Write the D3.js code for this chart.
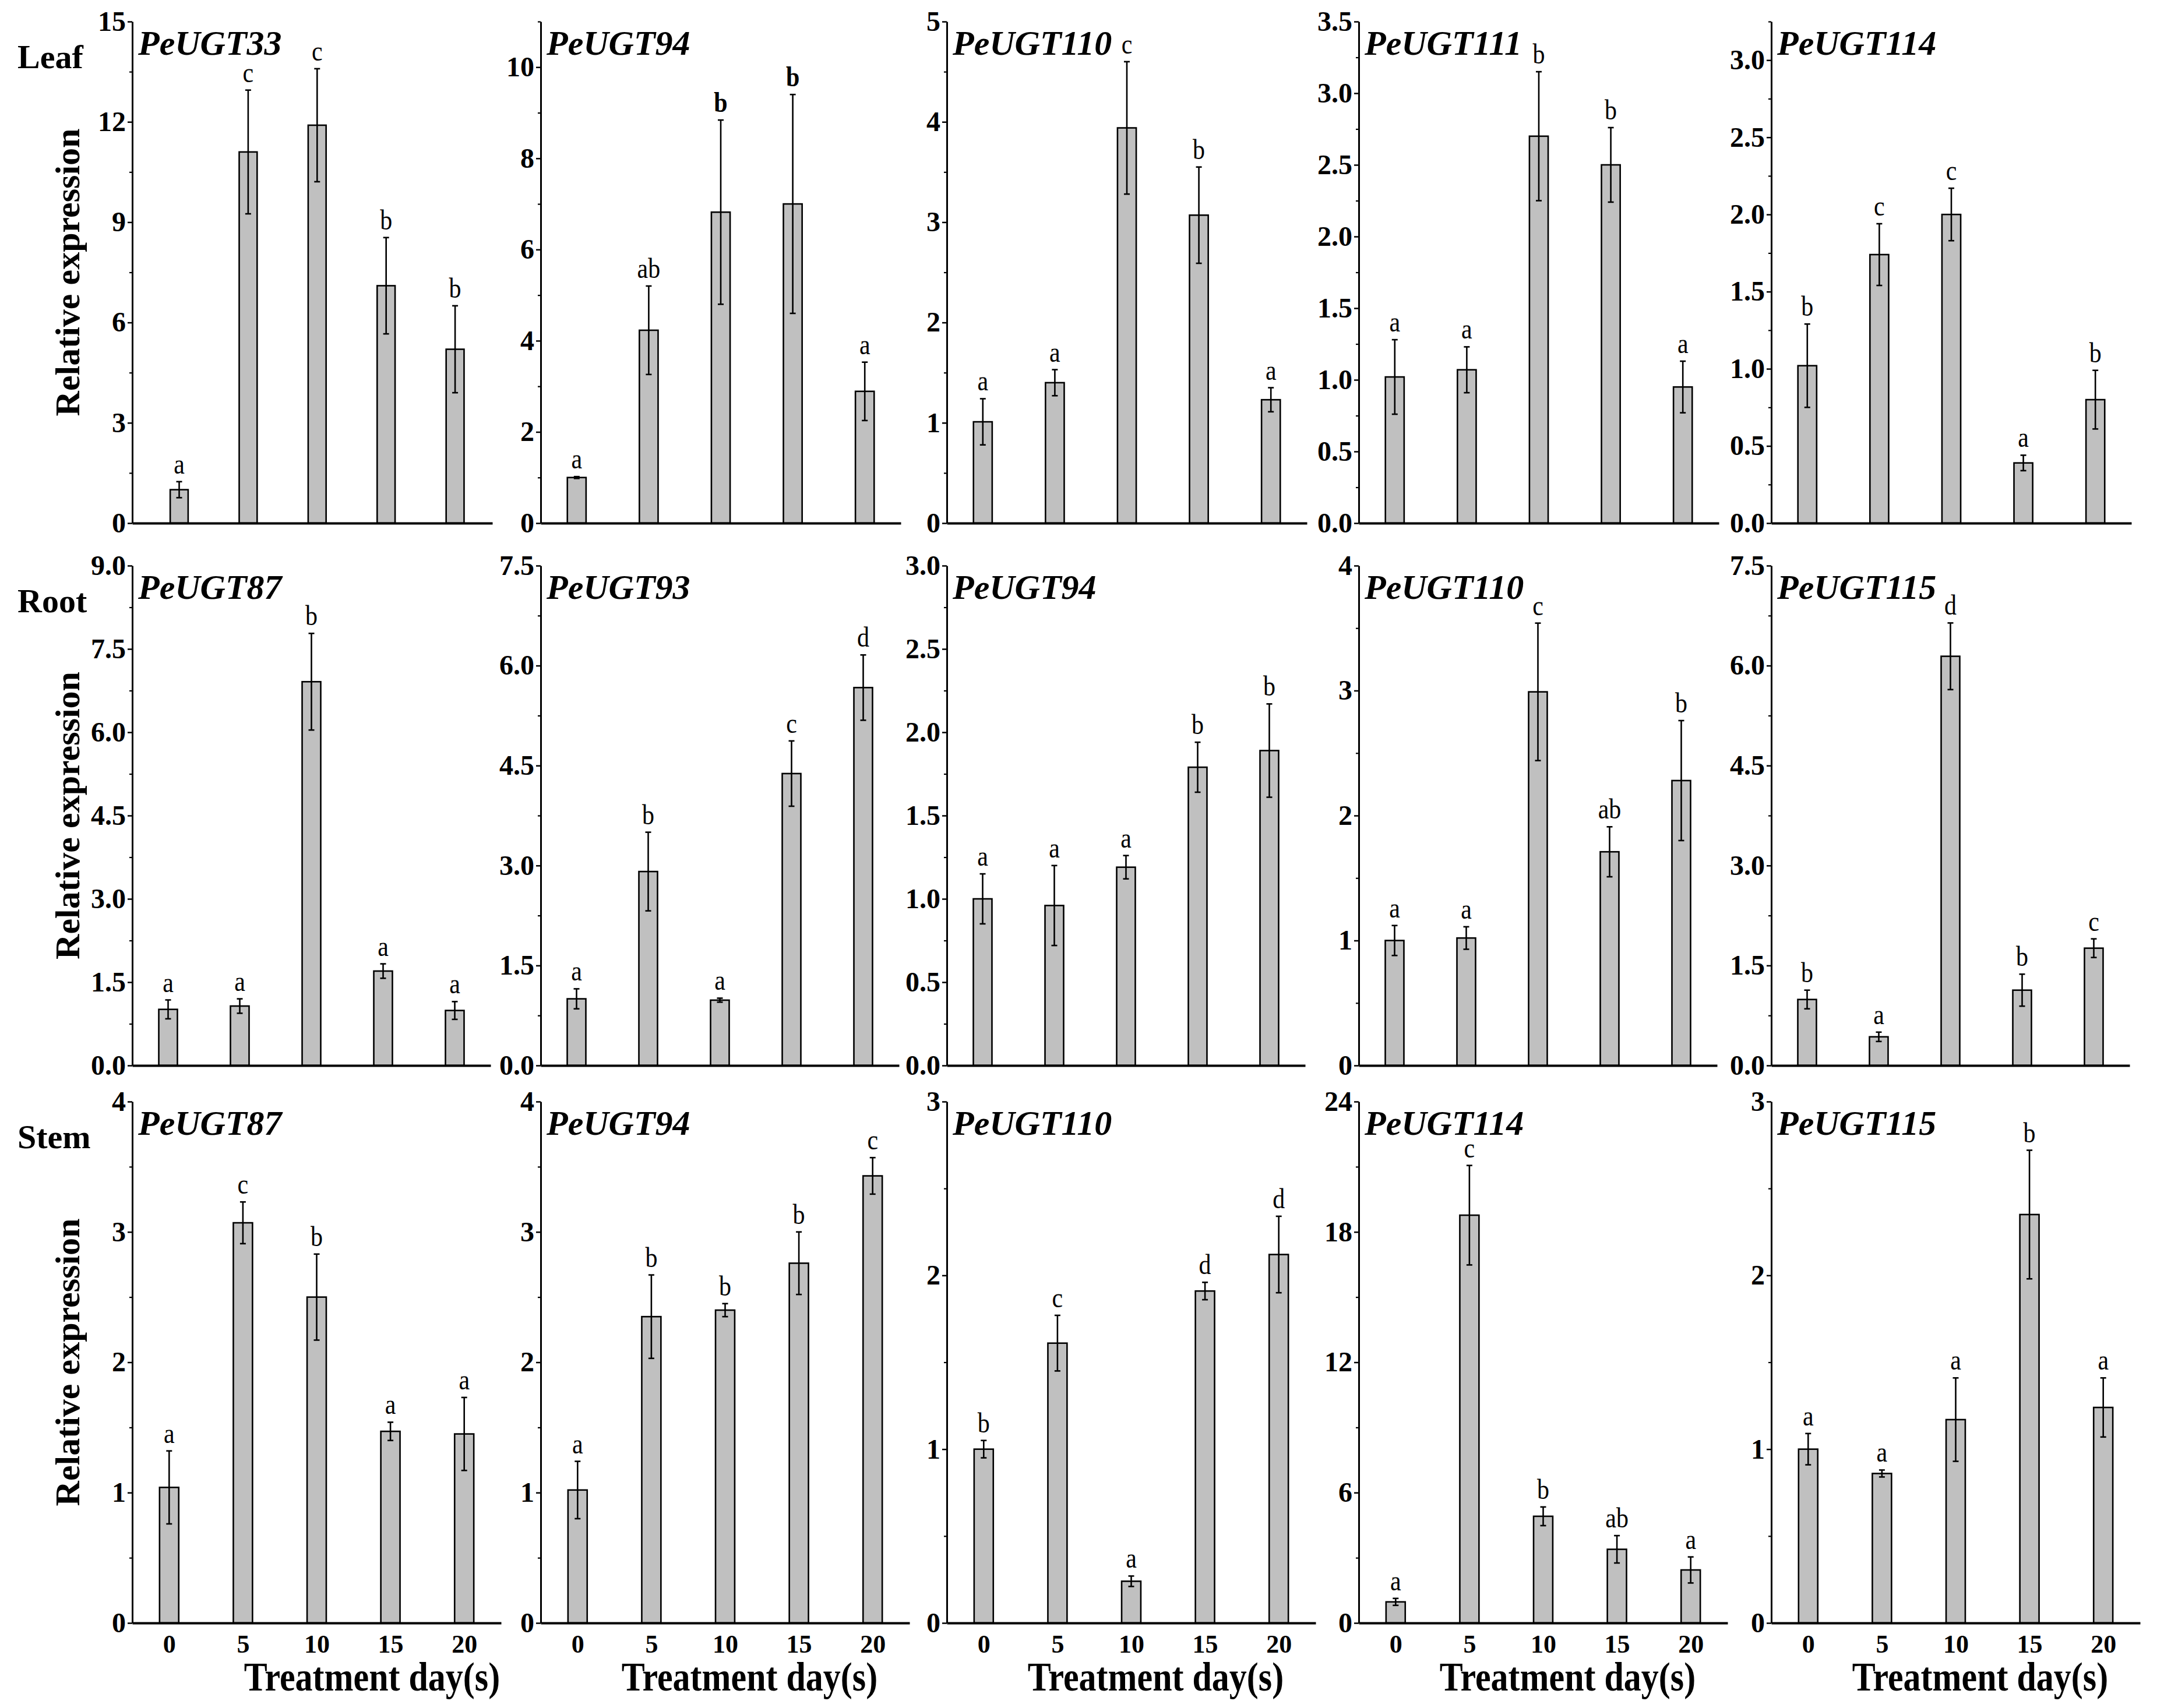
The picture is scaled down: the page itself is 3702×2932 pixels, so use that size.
<!DOCTYPE html>
<html>
<head>
<meta charset="utf-8">
<script src="https://cdn.jsdelivr.net/npm/d3@7"></script>
<style>
  html, body { margin: 0; padding: 0; background: #fff; }
  svg { display: block; }
</style>
</head>
<body>
<div id="chart"></div>
<script>
// ---- data ----
const tissues = ['Leaf', 'Root', 'Stem'];
const days = [0, 5, 10, 15, 20];
const dayLabels = ['0', '5', '10', '15', '20'];

const genes = [
  'PeUGT33', 'PeUGT94', 'PeUGT110', 'PeUGT111', 'PeUGT114',
  'PeUGT87', 'PeUGT93', 'PeUGT94', 'PeUGT110', 'PeUGT115',
  'PeUGT87', 'PeUGT94', 'PeUGT110', 'PeUGT114', 'PeUGT115'
];

const means = [
  [1.0, 11.1, 11.9, 7.1, 5.2],
  [1.0, 4.23, 6.82, 7.0, 2.89],
  [1.01, 1.40, 3.94, 3.07, 1.23],
  [1.02, 1.07, 2.70, 2.50, 0.95],
  [1.02, 1.74, 2.00, 0.39, 0.80],
  [1.01, 1.07, 6.91, 1.70, 0.99],
  [1.00, 2.91, 0.98, 4.38, 5.67],
  [1.00, 0.96, 1.19, 1.79, 1.89],
  [1.00, 1.02, 2.99, 1.71, 2.28],
  [0.99, 0.43, 6.14, 1.13, 1.76],
  [1.04, 3.07, 2.50, 1.47, 1.45],
  [1.02, 2.35, 2.40, 2.76, 3.43],
  [1.00, 1.61, 0.24, 1.91, 2.12],
  [0.97, 18.77, 4.91, 3.39, 2.44],
  [1.00, 0.86, 1.17, 2.35, 1.24]
];

const errs = [
  [0.24, 1.85, 1.69, 1.44, 1.30],
  [0.02, 0.97, 2.02, 2.40, 0.64],
  [0.23, 0.13, 0.66, 0.48, 0.12],
  [0.26, 0.16, 0.45, 0.26, 0.18],
  [0.27, 0.20, 0.17, 0.05, 0.19],
  [0.17, 0.13, 0.87, 0.13, 0.16],
  [0.15, 0.59, 0.03, 0.49, 0.49],
  [0.15, 0.24, 0.07, 0.15, 0.28],
  [0.12, 0.09, 0.55, 0.20, 0.48],
  [0.14, 0.07, 0.50, 0.24, 0.14],
  [0.28, 0.16, 0.33, 0.07, 0.28],
  [0.22, 0.32, 0.05, 0.24, 0.14],
  [0.05, 0.16, 0.03, 0.05, 0.22],
  [0.16, 2.29, 0.43, 0.63, 0.60],
  [0.09, 0.02, 0.24, 0.37, 0.17]
];

const letters = [
  ['a', 'c', 'c', 'b', 'b'],
  ['a', 'ab', 'b', 'b', 'a'],
  ['a', 'a', 'c', 'b', 'a'],
  ['a', 'a', 'b', 'b', 'a'],
  ['b', 'c', 'c', 'a', 'b'],
  ['a', 'a', 'b', 'a', 'a'],
  ['a', 'b', 'a', 'c', 'd'],
  ['a', 'a', 'a', 'b', 'b'],
  ['a', 'a', 'c', 'ab', 'b'],
  ['b', 'a', 'd', 'b', 'c'],
  ['a', 'c', 'b', 'a', 'a'],
  ['a', 'b', 'b', 'b', 'c'],
  ['b', 'c', 'a', 'd', 'd'],
  ['a', 'c', 'b', 'ab', 'a'],
  ['a', 'a', 'a', 'b', 'a']
];
// [panel, bar] whose letter is set in bold
const boldLetters = [[1, 2], [1, 3]];

const yMax = [15, 11, 5, 3.5, 3.25, 9, 7.5, 3, 4, 7.5, 4, 4, 3, 24, 3];

const yTicks = [
  [0, 3, 6, 9, 12, 15],
  [0, 2, 4, 6, 8, 10],
  [0, 1, 2, 3, 4, 5],
  [0, 0.5, 1, 1.5, 2, 2.5, 3, 3.5],
  [0, 0.5, 1, 1.5, 2, 2.5, 3],
  [0, 1.5, 3, 4.5, 6, 7.5, 9],
  [0, 1.5, 3, 4.5, 6, 7.5],
  [0, 0.5, 1, 1.5, 2, 2.5, 3],
  [0, 1, 2, 3, 4],
  [0, 1.5, 3, 4.5, 6, 7.5],
  [0, 1, 2, 3, 4],
  [0, 1, 2, 3, 4],
  [0, 1, 2, 3],
  [0, 6, 12, 18, 24],
  [0, 1, 2, 3]
];

const yTickLabels = [
  ['0', '3', '6', '9', '12', '15'],
  ['0', '2', '4', '6', '8', '10'],
  ['0', '1', '2', '3', '4', '5'],
  ['0.0', '0.5', '1.0', '1.5', '2.0', '2.5', '3.0', '3.5'],
  ['0.0', '0.5', '1.0', '1.5', '2.0', '2.5', '3.0'],
  ['0.0', '1.5', '3.0', '4.5', '6.0', '7.5', '9.0'],
  ['0.0', '1.5', '3.0', '4.5', '6.0', '7.5'],
  ['0.0', '0.5', '1.0', '1.5', '2.0', '2.5', '3.0'],
  ['0', '1', '2', '3', '4'],
  ['0.0', '1.5', '3.0', '4.5', '6.0', '7.5'],
  ['0', '1', '2', '3', '4'],
  ['0', '1', '2', '3', '4'],
  ['0', '1', '2', '3'],
  ['0', '6', '12', '18', '24'],
  ['0', '1', '2', '3']
];

const yMinor = [
  [1.5, 4.5, 7.5, 10.5, 13.5],
  [1, 3, 5, 7, 9, 11],
  [0.5, 1.5, 2.5, 3.5, 4.5],
  [0.25, 0.75, 1.25, 1.75, 2.25, 2.75, 3.25],
  [0.25, 0.75, 1.25, 1.75, 2.25, 2.75, 3.25],
  [0.75, 2.25, 3.75, 5.25, 6.75, 8.25],
  [0.75, 2.25, 3.75, 5.25, 6.75],
  [0.25, 0.75, 1.25, 1.75, 2.25, 2.75],
  [0.5, 1.5, 2.5, 3.5],
  [0.75, 2.25, 3.75, 5.25, 6.75],
  [0.5, 1.5, 2.5, 3.5],
  [0.5, 1.5, 2.5, 3.5],
  [0.5, 1.5, 2.5],
  [3, 9, 15, 21],
  [0.5, 1.5, 2.5]
];

// ---- layout ----
const W = 3702, H = 2932;
const colX = [227, 928, 1625, 2332, 3040];
const rowBase = [898, 1829, 2786];
const rowH = [861, 858, 895];
const rowW = [618, 615, 633];
const barDays = 1.3;            // bar width in x units
const FONT = '"Liberation Serif", "Times New Roman", Times, serif';

const svg = d3.select('#chart').append('svg')
  .attr('width', W).attr('height', H)
  .attr('viewBox', `0 0 ${W} ${H}`);
svg.append('rect').attr('width', W).attr('height', H).attr('fill', '#fff');

genes.forEach((gene, p) => {
  const r = Math.floor(p / 5), c = p % 5;
  const x0 = colX[c], y0 = rowBase[r], w = rowW[r], h = rowH[r];
  // first leaf panel packs its bars a bit tighter
  const xDom = p === 0 ? [-3.4, 22.7] : [-2.5, 22.5];

  const x = d3.scaleLinear().domain(xDom).range([x0, x0 + w]);
  const y = d3.scaleLinear().domain([0, yMax[p]]).range([y0, y0 - h]);
  const bw = x(barDays) - x(0);
  const g = svg.append('g');

  const rows = days.map((d, i) => ({ d, i, v: means[p][i], e: errs[p][i], l: letters[p][i] }));

  // bars
  g.selectAll('rect.bar').data(rows).join('rect')
    .attr('class', 'bar')
    .attr('x', d => x(d.d) - bw / 2)
    .attr('y', d => y(d.v))
    .attr('width', bw)
    .attr('height', d => y(0) - y(d.v))
    .attr('fill', '#c0c0c0')
    .attr('stroke', '#000')
    .attr('stroke-width', 2.6);

  // error bars
  const eb = g.selectAll('g.err').data(rows).join('g').attr('class', 'err')
    .attr('stroke', '#000').attr('stroke-width', 2.6);
  eb.append('line')
    .attr('x1', d => x(d.d)).attr('x2', d => x(d.d))
    .attr('y1', d => y(d.v + d.e)).attr('y2', d => y(d.v - d.e));
  eb.append('line')
    .attr('x1', d => x(d.d) - 5).attr('x2', d => x(d.d) + 5)
    .attr('y1', d => y(d.v + d.e)).attr('y2', d => y(d.v + d.e));
  eb.append('line')
    .attr('x1', d => x(d.d) - 5).attr('x2', d => x(d.d) + 5)
    .attr('y1', d => y(d.v - d.e)).attr('y2', d => y(d.v - d.e));

  // significance letters (a touch taller than wide, as in the figure)
  g.selectAll('text.sig').data(rows).join('text')
    .attr('class', 'sig')
    .attr('transform', d => `translate(${x(d.d)},${y(d.v + d.e) - 14}) scale(1,1.15)`)
    .attr('text-anchor', 'middle')
    .attr('font-family', FONT)
    .attr('font-size', 42)
    .attr('font-weight', d => boldLetters.some(([bp, bi]) => bp === p && bi === d.i) ? 'bold' : 'normal')
    .text(d => d.l);

  // y axis, major + minor
  const yAxis = d3.axisLeft(y).tickValues(yTicks[p]).tickSize(8).tickSizeOuter(0).tickPadding(3)
    .tickFormat((d, i) => yTickLabels[p][i]);
  const ya = g.append('g').attr('transform', `translate(${x0},0)`).call(yAxis);
  ya.select('.domain').attr('stroke-width', 3);
  ya.selectAll('.tick line').attr('stroke-width', 2.5);
  ya.selectAll('.tick text').attr('font-family', FONT).attr('font-size', 48)
    .attr('font-weight', 'bold').attr('fill', '#000');
  const ym = g.append('g').attr('transform', `translate(${x0},0)`)
    .call(d3.axisLeft(y).tickValues(yMinor[p]).tickSize(5).tickFormat(''));
  ym.select('.domain').remove();
  ym.selectAll('.tick line').attr('stroke-width', 2.2);

  // x axis line; day labels only on the bottom row
  const xAxis = d3.axisBottom(x).tickValues(r === 2 ? days : []).tickSize(0).tickSizeOuter(0).tickPadding(20)
    .tickFormat((d, i) => dayLabels[i]);
  const xa = g.append('g').attr('transform', `translate(0,${y0})`).call(xAxis);
  xa.select('.domain').attr('stroke-width', 4);
  xa.selectAll('.tick text').attr('font-family', FONT).attr('font-size', 44)
    .attr('font-weight', 'bold').attr('fill', '#000');

  // gene title
  g.append('text')
    .attr('x', x0 + 10).attr('y', y0 - h + 57)
    .attr('font-family', FONT).attr('font-size', 60)
    .attr('font-weight', 'bold').attr('font-style', 'italic')
    .text(gene);

  if (r === 2) {
    const cx = x0 + w / 2 + (c === 0 ? 95 : 42);
    g.append('text')
      .attr('transform', `translate(${cx},${y0 + 116}) scale(1,1.15)`)
      .attr('text-anchor', 'middle')
      .attr('font-family', FONT).attr('font-size', 60).attr('font-weight', 'bold')
      .text('Treatment day(s)');
  }

  if (c === 0) {
    g.append('text')
      .attr('x', 30).attr('y', y0 - h + 80)
      .attr('font-family', FONT).attr('font-size', 58).attr('font-weight', 'bold')
      .text(tissues[r]);
    g.append('text')
      .attr('transform', `translate(136,${y0 - h / 2}) rotate(-90)`)
      .attr('text-anchor', 'middle')
      .attr('font-family', FONT).attr('font-size', 60).attr('font-weight', 'bold')
      .text('Relative expression');
  }
});
</script>
</body>
</html>
